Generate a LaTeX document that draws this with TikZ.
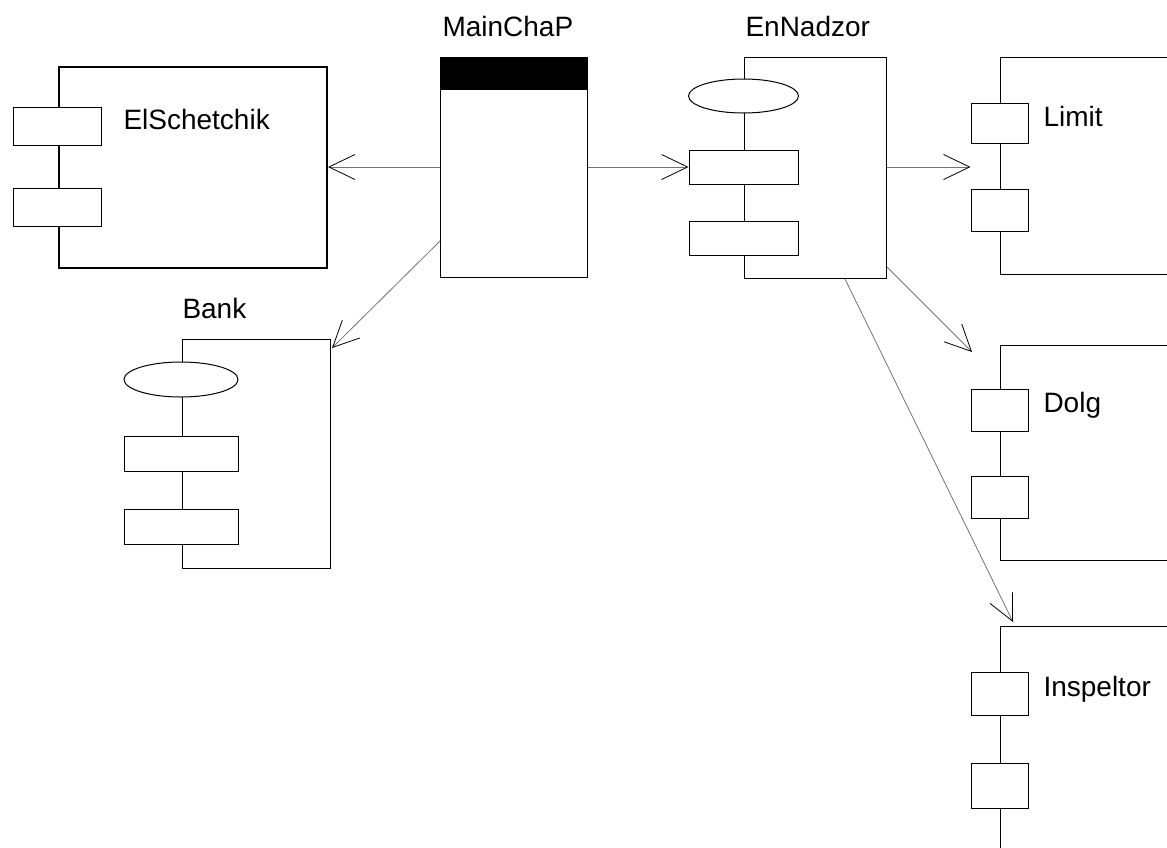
\documentclass[tikz,border=0pt]{standalone}
\usepackage{fontspec}
\setmainfont{Liberation Sans}
\usetikzlibrary{arrows.meta,calc,shapes.geometric}

\begin{document}
\begin{tikzpicture}[
  x=1pt, y=-1pt, line width=1pt,
  comp/.style={draw, rectangle, inner sep=0pt, anchor=north west},
  port/.style={draw, fill=white, rectangle, inner sep=0pt, minimum height=38pt},
  iface/.style={draw, fill=white, ellipse, inner sep=0pt, minimum width=110pt, minimum height=34pt},
  lbl/.style={inner sep=0pt, anchor=base west, font=\fontsize{28}{33}\selectfont},
  dep/.style={draw=black!55, line width=0.8pt, -{Straight Barb[length=26pt,width=25pt,black,line width=0.8pt]}}]
  \clip (0,0) rectangle (1167,847);
  % components
  \node[comp, line width=2pt, minimum width=268pt, minimum height=201pt] (elsch) at (58,66) {};
  \node[port, minimum width=88pt] (elsch-p1) at (57,126.5) {};
  \node[port, minimum width=88pt] (elsch-p2) at (57,207.5) {};
  \node[lbl] (lbl-elsch) at (123,129) {ElSchetchik};

  \node[comp, minimum width=147pt, minimum height=220pt] (mainchap) at (440,57) {};
  \fill (mainchap.north west) rectangle ($(mainchap.north east)+(0,33)$);
  \node[lbl] (lbl-main) at (442,36) {MainChaP};

  \node[comp, minimum width=142pt, minimum height=221pt] (ennadzor) at (744,57) {};
  \node[iface] (ennadzor-i) at (743.5,96) {};
  \node[port, minimum width=109pt, minimum height=34pt] (ennadzor-p1) at (743.5,167) {};
  \node[port, minimum width=109pt, minimum height=34pt] (ennadzor-p2) at (743.5,238.5) {};
  \node[lbl] (lbl-ennadzor) at (745,36) {EnNadzor};

  \node[comp, minimum width=148pt, minimum height=229pt] (bank) at (182,339) {};
  \node[iface, minimum width=114pt, minimum height=35pt] (bank-i) at (181,379.5) {};
  \node[port, minimum width=114pt, minimum height=35pt] (bank-p1) at (181,453.5) {};
  \node[port, minimum width=114pt, minimum height=35pt] (bank-p2) at (181,527) {};
  \node[lbl] (lbl-bank) at (182,318) {Bank};

  \node[comp, minimum width=220pt, minimum height=217pt] (limit) at (1000,57) {};
  \node[port, minimum width=57pt, minimum height=40pt] (limit-p1) at (999.5,123) {};
  \node[port, minimum width=57pt, minimum height=42pt] (limit-p2) at (999.5,210) {};
  \node[lbl] (lbl-limit) at (1043,126) {Limit};

  \node[comp, minimum width=220pt, minimum height=215pt] (dolg) at (1000,345) {};
  \node[port, minimum width=57pt, minimum height=42pt] (dolg-p1) at (999.5,410) {};
  \node[port, minimum width=57pt, minimum height=42pt] (dolg-p2) at (999.5,497) {};
  \node[lbl] (lbl-dolg) at (1043,412) {Dolg};

  \node[comp, minimum width=220pt, minimum height=300pt] (inspeltor) at (1000,626) {};
  \node[port, minimum width=57pt, minimum height=43pt] (inspeltor-p1) at (999.5,693.5) {};
  \node[port, minimum width=57pt, minimum height=45pt] (inspeltor-p2) at (999.5,785.5) {};
  \node[lbl] (lbl-inspeltor) at (1043,696) {Inspeltor};

  % dependencies
  \draw[dep] (mainchap.west |- ennadzor-p1) -- (elsch.east |- ennadzor-p1);
  \draw[dep] (mainchap.east |- ennadzor-p1) -- (ennadzor-p1.west);
  \draw[dep] ($(mainchap.south west)+(0,-37)$) -- ($(bank.north east)+(1,9)$);
  \draw[dep] (ennadzor.east |- ennadzor-p1) -- (limit-p1.west |- ennadzor-p1);
  \draw[dep] ($(ennadzor.south east)+(0,-12)$) -- ($(dolg.north west)+(-28,7)$);
  \draw[dep] ($(ennadzor.south west)+(101,0)$) -- ($(inspeltor.north west)+(13,-4)$);
\end{tikzpicture}
\end{document}
